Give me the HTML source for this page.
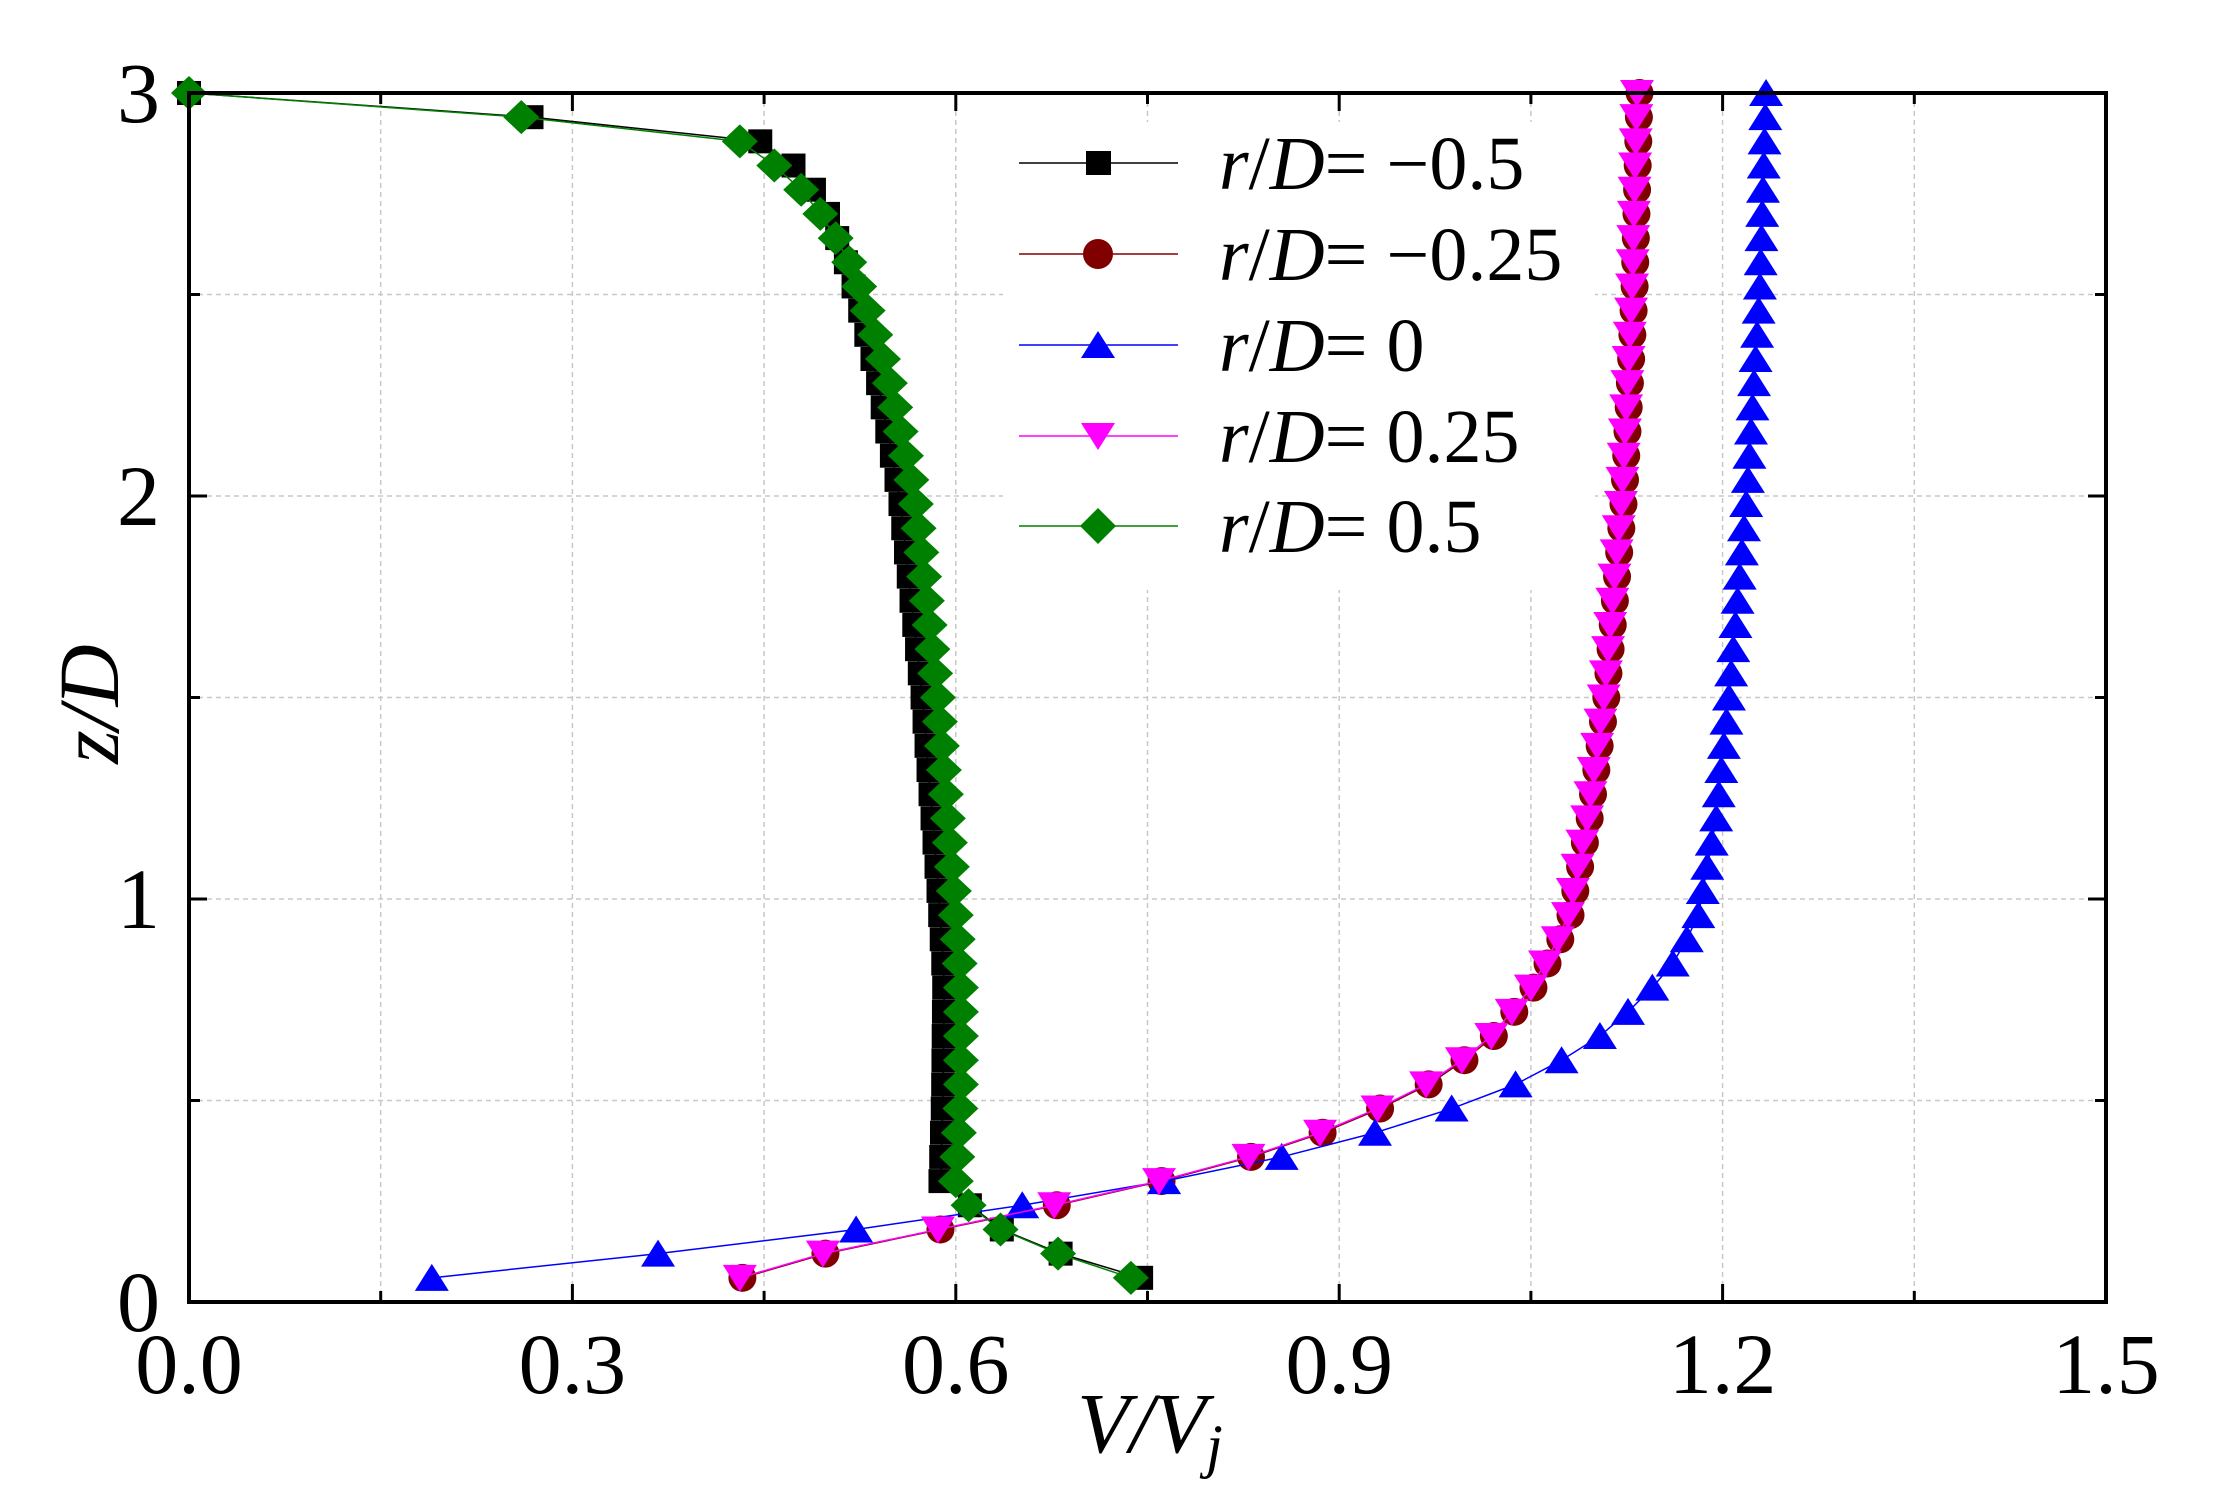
<!DOCTYPE html>
<html><head><meta charset="utf-8"><style>
html,body{margin:0;padding:0;background:#fff;}
svg{display:block;}
text{font-family:"Liberation Serif",serif;fill:#000;}
</style></head><body>
<svg id="s" width="2220" height="1512" xmlns="http://www.w3.org/2000/svg">
<rect width="2220" height="1512" fill="#fff"/>
<g id="grid"></g>
<g id="data"></g>
<g id="legend">
<rect x="1003" y="122" width="592" height="468" fill="#fff"/>
<line x1="1019" y1="163" x2="1178" y2="163" stroke="#000" stroke-width="1.5"/>
<rect x="1086" y="151" width="25" height="24" fill="#000"/>
<line x1="1019" y1="254" x2="1178" y2="254" stroke="#800000" stroke-width="1.5"/>
<circle cx="1098" cy="254" r="15" fill="#800000"/>
<line x1="1019" y1="345" x2="1178" y2="345" stroke="#0000ff" stroke-width="1.5"/>
<polygon points="1081,358 1115,358 1098,331" fill="#0000ff"/>
<line x1="1019" y1="436" x2="1178" y2="436" stroke="#ff00ff" stroke-width="1.5"/>
<polygon points="1081,423 1115,423 1098,450" fill="#ff00ff"/>
<line x1="1019" y1="526" x2="1178" y2="526" stroke="#008000" stroke-width="1.5"/>
<polygon points="1080,526 1098,508 1116,526 1098,544" fill="#008000"/>
<g font-size="76">
<text x="1219" y="189"><tspan font-style="italic">r</tspan>/<tspan font-style="italic">D</tspan>= −0.5</text>
<text x="1219" y="280"><tspan font-style="italic">r</tspan>/<tspan font-style="italic">D</tspan>= −0.25</text>
<text x="1219" y="371"><tspan font-style="italic">r</tspan>/<tspan font-style="italic">D</tspan>= 0</text>
<text x="1219" y="462"><tspan font-style="italic">r</tspan>/<tspan font-style="italic">D</tspan>= 0.25</text>
<text x="1219" y="552"><tspan font-style="italic">r</tspan>/<tspan font-style="italic">D</tspan>= 0.5</text>
</g>
</g>
<rect x="189" y="93" width="1917" height="1209" fill="none" stroke="#000" stroke-width="4"/>
<g id="ticks"></g>
<g font-size="86" id="labels"></g>
<text x="1150" y="1452" font-size="86" text-anchor="middle" font-style="italic">V/V<tspan font-size="60" dy="14">j</tspan></text>
<text transform="translate(118,704) rotate(-90)" font-size="86" text-anchor="middle" font-style="italic">z/D</text>
</svg>
<script>
var NS="http://www.w3.org/2000/svg";
var X0=189,X1=2106,Y0=93,Y1=1302;
function px(v){return X0+v*(X1-X0)/1.5;}
function py(z){return Y1-z*(Y1-Y0)/3;}
function el(p,tag,a){var e=document.createElementNS(NS,tag);for(var k in a)e.setAttribute(k,a[k]);p.appendChild(e);return e;}
var grid=document.getElementById('grid'),ticks=document.getElementById('ticks'),labels=document.getElementById('labels'),data=document.getElementById('data');
for(var i=1;i<10;i++){var x=px(i*0.15);el(grid,'line',{x1:x,y1:Y0,x2:x,y2:Y1,stroke:'#c8c8c8','stroke-width':1.5,'stroke-dasharray':'5,4'});
 var L=(i%2==0)?18:11;el(ticks,'line',{x1:x,y1:Y1,x2:x,y2:Y1-L,stroke:'#000','stroke-width':3});el(ticks,'line',{x1:x,y1:Y0,x2:x,y2:Y0+L,stroke:'#000','stroke-width':3});}
for(var i=1;i<6;i++){var y=py(i*0.5);el(grid,'line',{x1:X0,y1:y,x2:X1,y2:y,stroke:'#c8c8c8','stroke-width':1.5,'stroke-dasharray':'5,4'});
 var L=(i%2==0)?18:11;el(ticks,'line',{x1:X0,y1:y,x2:X0+L,y2:y,stroke:'#000','stroke-width':3});el(ticks,'line',{x1:X1,y1:y,x2:X1-L,y2:y,stroke:'#000','stroke-width':3});}
['0.0','0.3','0.6','0.9','1.2','1.5'].forEach(function(t,i){var e=el(labels,'text',{x:px(i*0.3),y:1393,'text-anchor':'middle'});e.textContent=t;});
['0','1','2','3'].forEach(function(t,i){var e=el(labels,'text',{x:160,y:py(i)+29,'text-anchor':'end'});e.textContent=t;});
function interp(k,z){for(var i=0;i<k.length-1;i++){if(z>=k[i][0]&&z<=k[i+1][0]){var t=(z-k[i][0])/(k[i+1][0]-k[i][0]);return k[i][1]+t*(k[i+1][1]-k[i][1]);}}return k[k.length-1][1];}
var zs=[];for(var i=1;i<=50;i++)zs.push(+(i*0.06).toFixed(3));
var green=[[0.06,0.737],[0.12,0.680],[0.18,0.635],[0.24,0.610],[0.30,0.600],[0.5,0.604],[0.8,0.604],[1.0,0.599],[1.5,0.586],[2.0,0.568],[2.3,0.547],[2.5,0.527],[2.6,0.514],[2.7,0.494],[2.76,0.479],[2.82,0.458],[2.88,0.431],[2.94,0.26],[3.0,0.0]];
var black=[[0.06,0.745],[0.12,0.682],[0.18,0.636],[0.24,0.611],[0.30,0.588],[0.5,0.590],[0.8,0.591],[1.0,0.587],[1.5,0.574],[2.0,0.556],[2.3,0.538],[2.5,0.522],[2.6,0.512],[2.7,0.500],[2.76,0.489],[2.82,0.473],[2.88,0.447],[2.94,0.268],[3.0,0.0]];
var mag=[[0.06,0.431],[0.12,0.496],[0.18,0.586],[0.24,0.677],[0.30,0.759],[0.36,0.829],[0.42,0.885],[0.48,0.930],[0.54,0.968],[0.60,0.996],[0.66,1.019],[0.72,1.035],[0.78,1.050],[0.84,1.061],[0.90,1.071],[0.96,1.079],[1.2,1.094],[1.5,1.107],[2.0,1.121],[2.5,1.129],[3.0,1.133]];
var blue=[[0.06,0.19],[0.12,0.367],[0.18,0.522],[0.24,0.652],[0.30,0.763],[0.36,0.855],[0.42,0.928],[0.48,0.988],[0.54,1.038],[0.60,1.074],[0.66,1.104],[0.72,1.126],[0.78,1.145],[0.84,1.161],[0.90,1.172],[0.96,1.181],[1.2,1.195],[1.5,1.205],[2.0,1.219],[2.5,1.229],[3.0,1.234]];
function series(keys,color,marker,dx){var pts=zs.map(function(z){return [px(interp(keys,z)+(dx||0)),py(z)];});
 el(data,'polyline',{points:pts.map(function(p){return p.join(',');}).join(' '),fill:'none',stroke:color,'stroke-width':1.5});
 pts.forEach(function(p){var x=p[0],y=p[1];
  if(marker=='sq')el(data,'rect',{x:x-12,y:y-12,width:24,height:24,fill:color});
  else if(marker=='ci')el(data,'circle',{cx:x,cy:y,r:14,fill:color});
  else if(marker=='up')el(data,'polygon',{points:(x-17)+','+(y+13)+' '+(x+17)+','+(y+13)+' '+x+','+(y-14),fill:color});
  else if(marker=='dn')el(data,'polygon',{points:(x-17)+','+(y-13)+' '+(x+17)+','+(y-13)+' '+x+','+(y+14),fill:color});
  else if(marker=='di')el(data,'polygon',{points:(x-18)+','+y+' '+x+','+(y-17)+' '+(x+18)+','+y+' '+x+','+(y+17),fill:color});});}
series(black,'#000000','sq');
series(mag,'#800000','ci',0.002);
series(blue,'#0000ff','up');
series(mag,'#ff00ff','dn');
series(green,'#008000','di');
</script>
</body></html>
